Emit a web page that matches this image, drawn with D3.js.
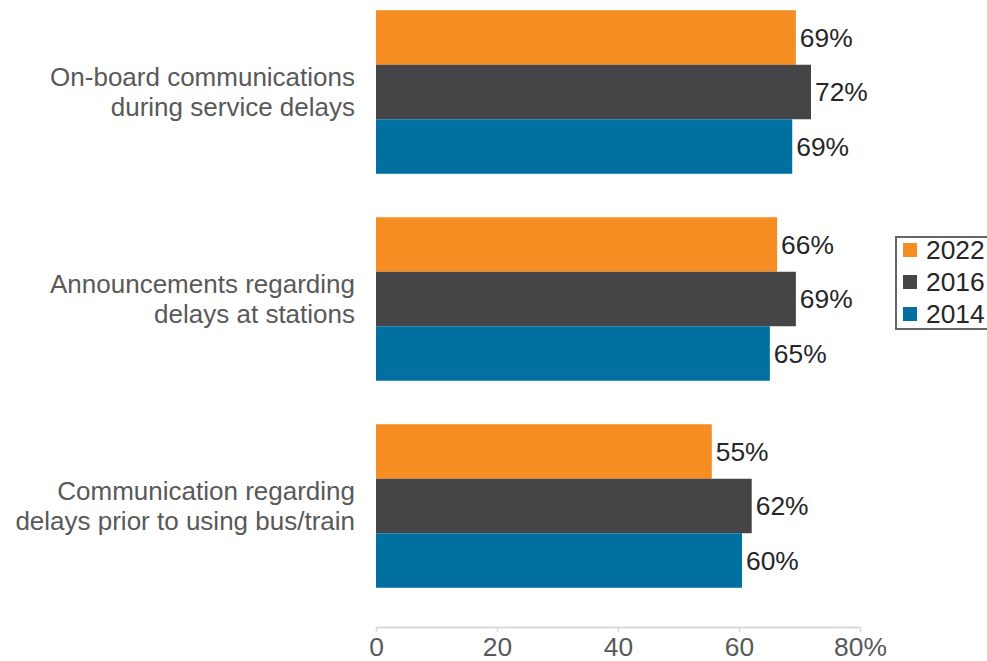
<!DOCTYPE html>
<html><head><meta charset="utf-8">
<script src="https://cdn.jsdelivr.net/npm/d3@7"></script>
<style>body{margin:0;background:#fff;}svg{display:block;font-family:"Liberation Sans",Arial,sans-serif;}</style>
</head><body>
<svg id="c" width="987" height="661"></svg>
<script>
const categories = [
  ["On-board communications", "during service delays"],
  ["Announcements regarding", "delays at stations"],
  ["Communication regarding", "delays prior to using bus/train"]
];
const seriesNames = ["2022", "2016", "2014"];
const values2022 = [69.4, 66.3, 55.5];
const values2016 = [71.9, 69.4, 62.1];
const values2014 = [68.8, 65.1, 60.5];
const labels2022 = ["69%", "66%", "55%"];
const labels2016 = ["72%", "69%", "62%"];
const labels2014 = ["69%", "65%", "60%"];
const tickValues = [0, 20, 40, 60, 80];
const tickLabels = ["0", "20", "40", "60", "80%"];
const colors = ["#F58D22", "#454547", "#0070A0"];

const seriesVals = [values2022, values2016, values2014];
const seriesLabels = [labels2022, labels2016, labels2014];
const FS = 26.4;
const CAT_FS = 26;

const svg = d3.select("#c");
const x = d3.scaleLinear().domain([0, 80]).range([376, 860]);
const y = d3.scaleBand().domain(d3.range(categories.length)).range([-11.5, 609.5]).paddingInner(0.21).paddingOuter(0.105);
const ys = d3.scaleBand().domain(d3.range(seriesNames.length)).range([0, y.bandwidth()]);

const data = [];
categories.forEach((c, i) => seriesNames.forEach((s, j) => data.push({i, j, v: seriesVals[j][i], l: seriesLabels[j][i]})));

svg.selectAll("rect.bar").data(data).enter().append("rect").attr("class", "bar")
  .attr("x", x(0)).attr("y", d => y(d.i) + ys(d.j))
  .attr("width", d => x(d.v) - x(0)).attr("height", ys.bandwidth())
  .attr("fill", d => colors[d.j]);

svg.selectAll("text.val").data(data).enter().append("text").attr("class", "val")
  .attr("x", d => x(d.v) + 4).attr("y", d => y(d.i) + ys(d.j) + ys.bandwidth() / 2)
  .attr("dy", "0.35em").attr("font-size", FS).attr("fill", "#262626").text(d => d.l);

// category labels (one text element per line)
categories.forEach((lines, i) => {
  const cy = y(i) + y.bandwidth() / 2;
  lines.forEach((ln, k) => {
    svg.append("text").attr("class", "cat").attr("text-anchor", "end").attr("font-size", CAT_FS).attr("fill", "#595959")
      .attr("x", 355).attr("y", cy + (k - (lines.length - 1) / 2) * 29.5).attr("dy", "0.35em").text(ln);
  });
});

// x axis
const ax = svg.append("g").attr("transform", "translate(0,627)")
  .call(d3.axisBottom(x).tickValues(tickValues).tickFormat((d, i) => tickLabels[i]).tickSize(5).tickSizeOuter(0));
ax.select(".domain").attr("stroke", "#d9d9d9").attr("stroke-width", 2);
ax.selectAll(".tick line").attr("stroke", "#d9d9d9").attr("stroke-width", 1.5);
ax.selectAll(".tick text").attr("font-size", FS).attr("fill", "#595959").attr("font-family", "Liberation Sans, Arial, sans-serif").attr("dy", "0.71em").attr("y", 10);

// legend
const lg = svg.append("g");
lg.append("rect").attr("x", 896).attr("y", 237).attr("width", 96).attr("height", 92)
  .attr("fill", "#fff").attr("stroke", "#666").attr("stroke-width", 2);
seriesNames.forEach((s, j) => {
  const cy = 250 + j * 32;
  lg.append("rect").attr("x", 903).attr("y", cy - 7).attr("width", 14).attr("height", 14).attr("fill", colors[j]);
  lg.append("text").attr("x", 926).attr("y", cy).attr("dy", "0.35em").attr("font-size", FS).attr("fill", "#262626").text(s);
});
</script>
</body></html>
